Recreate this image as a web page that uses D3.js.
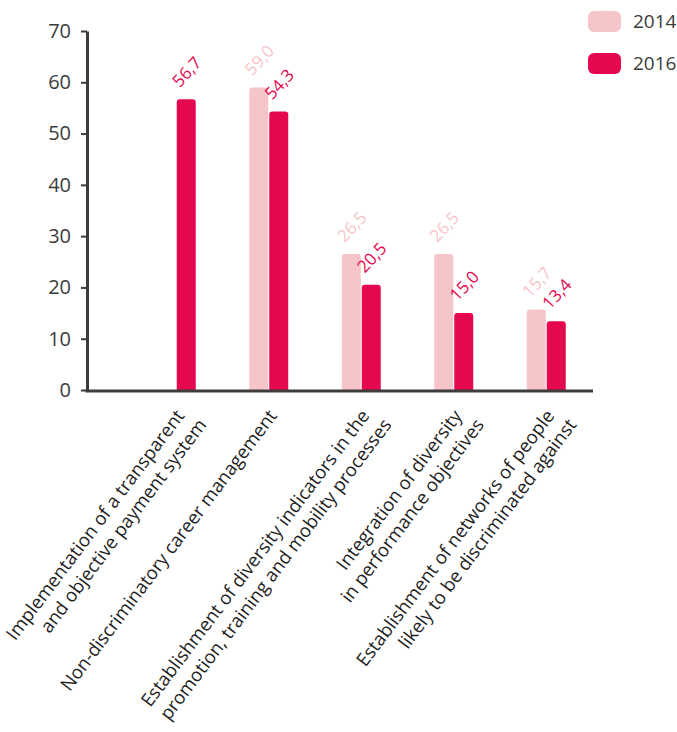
<!DOCTYPE html>
<html>
<head>
<meta charset="utf-8">
<script src="https://cdn.jsdelivr.net/npm/d3@7"></script>
<style>
  body { margin: 0; background: #fff; }
  svg { display: block; font-family: "Open Sans", sans-serif; }
</style>
</head>
<body>
<div id="chart"></div>
<script>
// categories, one entry per group, split into the two printed lines
const categories = [
  ["Implementation of a transparent", "and objective payment system"],
  ["Non-discriminatory career management"],
  ["Establishment of diversity indicators in the", "promotion, training and mobility processes"],
  ["Integration of diversity", "in performance objectives"],
  ["Establishment of networks of people", "likely to be discriminated against"]
];
const years = ["2014", "2016"];
const values2014 = [null, 59.0, 26.5, 26.5, 15.7];
const values2016 = [56.7, 54.3, 20.5, 15.0, 13.4];
const yTicks = [0, 10, 20, 30, 40, 50, 60, 70];

const colors = { "2014": "#f6c5c9", "2016": "#e5084f" };
const textColor = "#3c3c3c";

const width = 677, height = 732;
const axisX = 87, axisY = 390, axisRight = 593;

const svg = d3.select('#chart')
  .append('svg')
  .attr('width', width)
  .attr('height', height);

const x = d3.scaleBand()
  .domain(d3.range(categories.length))
  .range([130, 592.5]);

// position of each year inside a group, relative to the group centre
const xYear = d3.scaleBand()
  .domain(years)
  .range([-19.5, 19.5])
  .paddingInner(0.05);

const y = d3.scaleLinear()
  .domain([0, 70])
  .range([axisY, 31]);

const fmt = d3.formatLocale({ decimal: ",", thousands: ".", grouping: [3], currency: ["", ""] }).format(".1f");

// y axis
const yAxis = svg.append('g')
  .attr('transform', `translate(${axisX},0)`)
  .call(d3.axisLeft(y).tickValues(yTicks).tickSize(6).tickSizeOuter(0).tickPadding(10));
yAxis.select('.domain').attr('stroke', textColor).attr('stroke-width', 3);
yAxis.selectAll('.tick line').attr('stroke', textColor).attr('stroke-width', 2);
yAxis.selectAll('.tick text')
  .attr('font-size', 20)
  .attr('font-family', '"Open Sans", sans-serif')
  .attr('fill', textColor);

// rounded-top bar
function barPath(bx, by, w, h, r) {
  r = Math.min(r, h);
  return `M${bx},${by + h}V${by + r}Q${bx},${by} ${bx + r},${by}H${bx + w - r}Q${bx + w},${by} ${bx + w},${by + r}V${by + h}Z`;
}

const rows = [];
categories.forEach((c, i) => {
  rows.push({ i, year: "2014", value: values2014[i] });
  rows.push({ i, year: "2016", value: values2016[i] });
});
const bars = rows.filter(d => d.value != null);
const center = i => x(i) + x.bandwidth() / 2;

svg.selectAll('.bar')
  .data(bars)
  .enter().append('path')
  .attr('class', 'bar')
  .attr('fill', d => colors[d.year])
  .attr('d', d => {
    const bx = center(d.i) + xYear(d.year);
    const by = y(d.value);
    return barPath(bx, by, xYear.bandwidth(), y(0) - by, 3);
  });

// value labels
svg.selectAll('.label')
  .data(bars)
  .enter().append('text')
  .attr('class', 'label')
  .attr('transform', d => `translate(${center(d.i) + xYear(d.year) + 3},${y(d.value) - 11}) rotate(-47)`)
  .attr('font-size', 17)
  .attr('fill', d => colors[d.year])
  .text(d => fmt(d.value));

// x axis line
svg.append('line')
  .attr('x1', axisX - 1.5).attr('x2', axisRight)
  .attr('y1', axisY + 1).attr('y2', axisY + 1)
  .attr('stroke', textColor)
  .attr('stroke-width', 3);

// category labels
const cat = svg.selectAll('.cat')
  .data(categories)
  .enter().append('text')
  .attr('class', 'cat')
  .attr('transform', (d, i) => `translate(${center(i) + 9},${axisY + 26}) rotate(-53)`)
  .attr('text-anchor', 'end')
  .attr('font-size', 18.5)
  .attr('fill', '#1e1e1e');
cat.each(function(lines) {
  const t = d3.select(this);
  lines.forEach((line, k) => {
    t.append('tspan')
      .attr('x', k === 0 ? 0 : 6)
      .attr('dy', k === 0 ? 0 : 23)
      .text(line);
  });
});

// legend
const legend = svg.selectAll('.legend')
  .data(years)
  .enter().append('g')
  .attr('class', 'legend')
  .attr('transform', (d, i) => `translate(588,${11 + i * 42})`);
legend.append('rect')
  .attr('width', 33).attr('height', 21).attr('rx', 6)
  .attr('fill', d => colors[d]);
legend.append('text')
  .attr('x', 45).attr('y', 10.5)
  .attr('dy', '0.35em')
  .attr('font-size', 19)
  .attr('fill', textColor)
  .text(d => d);
</script>
</body>
</html>
